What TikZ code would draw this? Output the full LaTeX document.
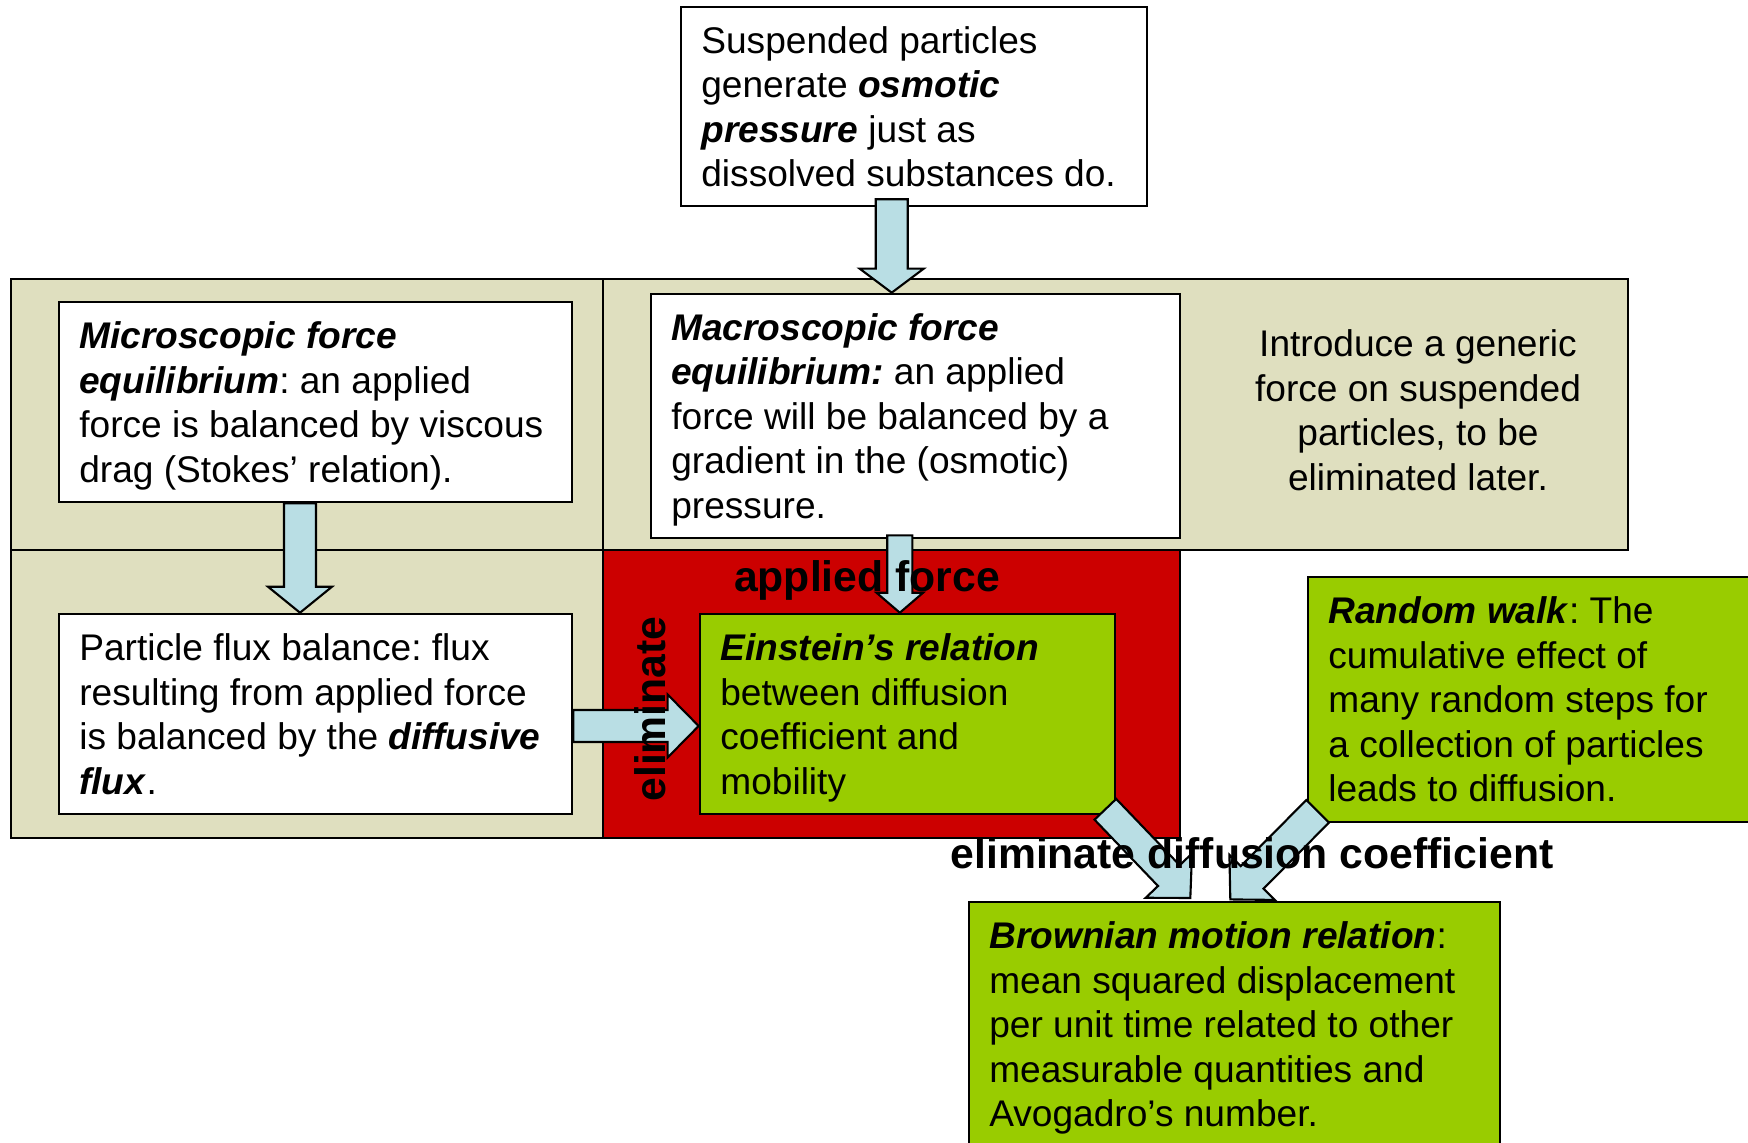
\documentclass[tikz,border=0pt]{standalone}
\usepackage{fontspec}
\setmainfont{Liberation Sans}
\usetikzlibrary{calc}
\frenchspacing
\definecolor{beige}{RGB}{223,223,191}
\definecolor{redp}{RGB}{204,0,0}
\definecolor{greenb}{RGB}{153,204,0}
\definecolor{arrblue}{RGB}{185,222,228}
\newcommand{\bi}[1]{\textbf{\textit{#1}}}
\newcommand{\fatarrow}[5]{%
  \coordinate (fa-s) at #1;
  \coordinate (fa-e) at #2;
  \coordinate (fa-b) at ($(fa-e)!#5!(fa-s)$);
  \draw[fatarr] ($(fa-s)!#3!90:(fa-e)$) -- ($(fa-b)!#3!90:(fa-e)$) -- ($(fa-b)!#4!90:(fa-e)$) -- (fa-e)
    -- ($(fa-b)!#4!-90:(fa-e)$) -- ($(fa-b)!#3!-90:(fa-e)$) -- ($(fa-s)!#3!-90:(fa-e)$) -- cycle;
}
\tikzset{
  panel/.style={draw=black, line width=0.7pt},
  box/.style={draw=black, line width=0.7pt, fill=white, inner sep=0pt},
  gbox/.style={box, fill=greenb},
  txt/.style={align=left, inner sep=0pt, anchor=west, text depth=0pt, font=\fontsize{10.55}{12.66}\selectfont\frenchspacing},
  lbl/.style={inner sep=0pt, anchor=base, font=\fontsize{12.15}{14}\selectfont\bfseries},
  fatarr/.style={draw=black, line width=0.6pt, fill=arrblue, line join=miter},
}
\begin{document}
\begin{tikzpicture}[x=0.01cm, y=-0.01cm]
\clip (0,0) rectangle (1748,1142);
\fill[white] (0,0) rectangle (1748,1142);
% panels
\draw[panel, fill=beige] (11,279) rectangle (603,550);
\draw[panel, fill=beige] (11,550) rectangle (603,838);
\draw[panel, fill=beige] (603,279) rectangle (1628,550);
\draw[panel, fill=redp] (603,550) rectangle (1180,838);
% boxes
\node[box, minimum width=4.66cm, minimum height=1.99cm] (top) at (914,106.5) {};
\node[txt] (topt) at ($(top.west)+(21,0)$) {Suspended particles\\generate \bi{osmotic}\\\bi{pressure} just as\\dissolved substances do.};
\node[box, minimum width=5.13cm, minimum height=2.00cm] (micro) at (315.5,402) {};
\node[txt] (microt) at ($(micro.west)+(21,0)$) {\bi{Microscopic force}\\\bi{equilibrium}: an applied\\force is balanced by viscous\\drag (Stokes’ relation).};
\node[box, minimum width=5.29cm, minimum height=2.44cm] (macro) at (915.5,416) {};
\node[txt] (macrot) at ($(macro.west)+(21,0)$) {\bi{Macroscopic force}\\\bi{equilibrium:} an applied\\force will be balanced by a\\gradient in the (osmotic)\\pressure.};
\node[txt, align=center, anchor=center] (intro) at (1418,410) {Introduce a generic\\force on suspended\\particles, to be\\eliminated later.};
\node[box, minimum width=5.13cm, minimum height=2.00cm] (flux) at (315.5,714) {};
\node[txt] (fluxt) at ($(flux.west)+(21,0)$) {Particle flux balance: flux\\resulting from applied force\\is balanced by the \bi{diffusive}\\\bi{flux}.};
\node[gbox, minimum width=4.15cm, minimum height=2.00cm] (ein) at (907.5,714) {};
\node[txt] (eint) at ($(ein.west)+(21,0)$) {\bi{Einstein’s relation}\\between diffusion\\coefficient and\\mobility};
\node[gbox, minimum width=4.52cm, minimum height=2.45cm] (rand) at (1534,699.5) {};
\node[txt] (randt) at ($(rand.west)+(21,0)$) {\bi{Random walk}: The\\cumulative effect of\\many random steps for\\a collection of particles\\leads to diffusion.};
\node[gbox, minimum width=5.31cm, minimum height=2.45cm] (brown) at (1234.5,1024.5) {};
\node[txt] (brownt) at ($(brown.west)+(21,0)$) {\bi{Brownian motion relation}:\\mean squared displacement\\per unit time related to other\\measurable quantities and\\Avogadro’s number.};
% arrows
\fatarrow{($(top.south)+(-22.3,-8)$)}{($(macro.north)+(-23.8,0)$)}{0.16cm}{0.32cm}{0.24cm}
\fatarrow{($(micro.south)+(-15.5,0)$)}{($(flux.north)+(-15.5,0)$)}{0.16cm}{0.32cm}{0.26cm}
\fatarrow{($(flux.east)+(0,12)$)}{($(ein.west)+(0,12)$)}{0.16cm}{0.315cm}{0.31cm}
\fatarrow{($(macro.south)+(-15.7,-4)$)}{($(ein.north)+(-7.7,0)$)}{0.125cm}{0.233cm}{0.20cm}
\fatarrow{($(ein.south east)+(-11,-6)$)}{($(brown.north west)+(222.7,-2.7)$)}{0.15cm}{0.32cm}{0.31cm}
\fatarrow{($(rand.south west)+(11,-12)$)}{($(brown.north west)+(262.7,-1.3)$)}{0.16cm}{0.32cm}{0.31cm}
% labels
\node[lbl] (lapplied) at (867,591.7) {applied force};
\node[lbl, rotate=90] (lelim) at (665,709) {eliminate};
\node[lbl] (lelimd) at (1252,868) {eliminate diffusion coefficient};
\end{tikzpicture}
\end{document}
